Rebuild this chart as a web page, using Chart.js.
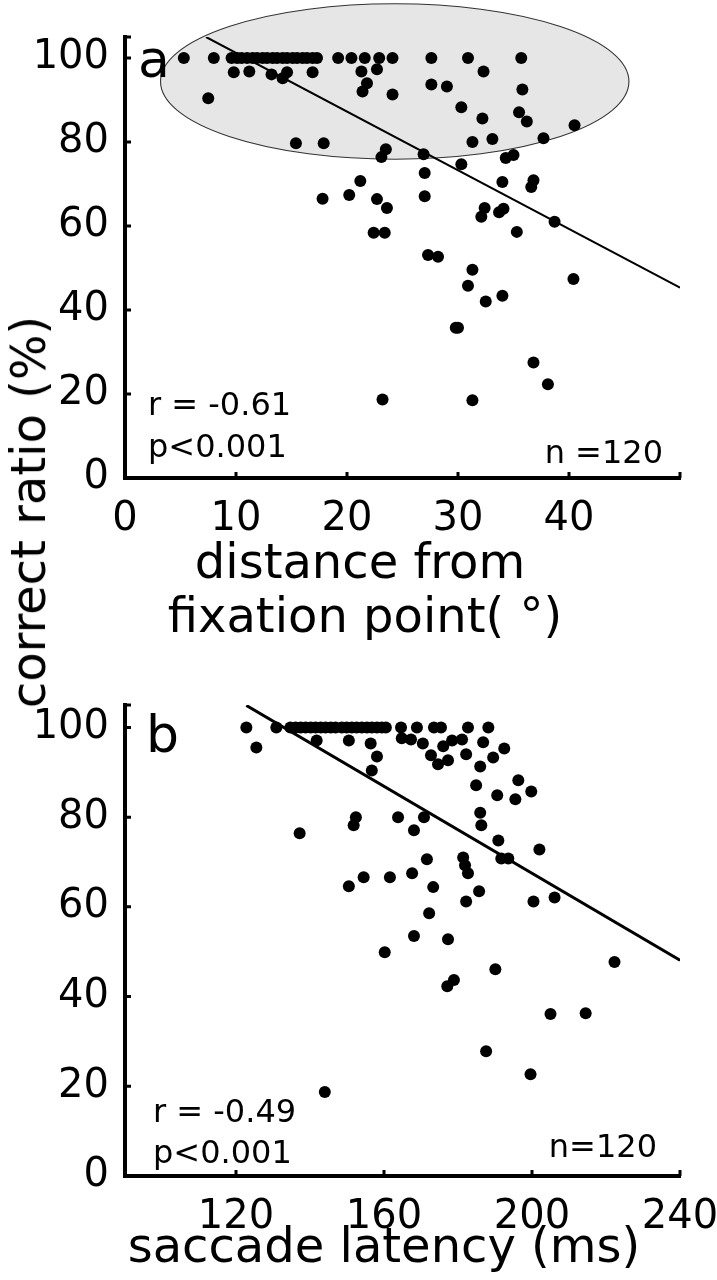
<!DOCTYPE html>
<html>
<head>
<meta charset="utf-8">
<script src="https://cdn.jsdelivr.net/npm/chart.js@4.4.0/dist/chart.umd.min.js"></script>
<style>
  body { margin: 0; background: #fff; width: 717px; height: 1280px; position: relative; overflow: hidden; }
  canvas { position: absolute; left: 0; }
  #ytitle {
    position: absolute; left: 28px; top: 512px;
    transform: translate(-50%, -50%) rotate(-90deg);
    font: 48px "DejaVu Sans"; color: #000; white-space: nowrap;
  }
</style>
</head>
<body>
<canvas id="chartA" width="717" height="640" style="top:0"></canvas>
<canvas id="chartB" width="717" height="640" style="top:640px"></canvas>
<div id="ytitle">correct ratio (%)</div>

<script>
// panel a: distance from fixation point (deg) vs correct ratio (%)
const distA = [
  5.3, 8.0, 9.6, 10.1, 10.5, 11.0, 11.5, 11.9, 12.4, 12.8, 13.3, 13.7, 14.2, 14.6,
  15.1, 15.5, 16.0, 16.4, 16.9, 17.3, 19.2, 20.4, 21.6, 22.9, 24.1, 27.6, 30.9, 35.7,
  9.8, 11.2, 13.2, 14.2, 14.6, 16.9, 21.3, 22.7, 21.8, 21.4, 24.1, 7.5, 32.3, 27.6,
  29.0, 35.8, 30.3, 35.5, 36.2, 32.2, 40.5,
  15.4, 17.9, 23.5, 23.1, 31.3, 33.1, 37.7, 34.3, 35.0, 26.9, 30.3, 27.0, 27.0, 34.0,
  36.8, 36.6, 21.2, 17.8, 20.2, 22.7, 23.6,
  32.4, 32.1, 34.1, 33.7, 38.7, 22.4, 23.4, 35.3, 27.3, 28.2, 31.3, 30.9, 32.5, 34.0,
  40.4, 29.8, 30.0, 36.8, 38.1, 31.3, 23.2
];
const ratioA = [
  100, 100, 100, 100, 100, 100, 100, 100, 100, 100, 100, 100, 100, 100,
  100, 100, 100, 100, 100, 100, 100, 100, 100, 100, 100, 100, 100, 100,
  96.6, 96.8, 96.1, 95.2, 96.6, 96.6, 96.8, 97.3, 94.0, 92.0, 91.3, 90.4, 96.8, 93.7,
  93.2, 92.5, 88.3, 87.1, 84.9, 85.6, 84.0,
  79.7, 79.7, 78.3, 76.4, 80.0, 80.7, 80.9, 76.2, 76.9, 77.1, 74.7, 72.6, 67.1, 70.5,
  70.9, 69.3, 70.7, 66.5, 67.4, 66.4, 64.3,
  64.3, 62.2, 64.1, 63.3, 61.0, 58.4, 58.4, 58.6, 53.1, 52.7, 49.6, 45.8, 42.0, 43.4,
  47.4, 35.8, 35.8, 27.5, 22.3, 18.5, 18.7
];
const fitXA = [7.3, 50];
const fitYA = [105, 45.3];

// panel b: saccade latency (ms) vs correct ratio (%)
const latB = [
  122.8, 130.9, 134.7, 136.1, 137.5, 138.8, 140.2, 141.5, 142.9, 144.2, 145.6, 146.9,
  148.6, 149.9, 151.3, 152.6, 154.0, 155.4, 156.7, 158.1, 159.4, 160.5, 164.6, 168.9,
  173.5, 175.4, 182.7, 188.2,
  125.5, 141.8, 150.5, 156.4, 158.1, 156.7, 164.8, 167.3, 170.5, 172.7, 174.6, 177.3,
  176.0, 178.4, 181.1, 182.2, 186.8, 189.5, 192.5, 186.0, 184.9, 190.6, 195.5, 196.3, 199.8,
  152.4, 151.8, 163.8, 170.8, 168.1, 186.0, 186.3, 190.9, 191.7, 193.6, 202.0, 171.6,
  181.4, 181.9, 182.7, 137.2,
  150.5, 154.5, 161.6, 167.6, 173.3, 185.7, 182.2, 200.4, 206.1, 172.2, 168.1, 177.3,
  160.2, 190.1, 178.9, 177.1, 205.0, 214.5, 222.3, 187.6, 199.6, 144.0
];
const ratioB = [
  100, 100, 100, 100, 100, 100, 100, 100, 100, 100, 100, 100,
  100, 100, 100, 100, 100, 100, 100, 100, 100, 100, 100, 100,
  100, 100, 100, 100,
  95.5, 97.1, 97.1, 96.4, 93.5, 90.4, 97.6, 97.3, 96.4, 93.8, 91.8, 92.7,
  95.8, 97.1, 97.3, 94.0, 96.7, 93.3, 95.3, 91.3, 87.1, 84.9, 84.0, 88.2, 85.7,
  80.0, 78.2, 80.0, 80.0, 77.1, 81.0, 78.2, 74.8, 70.8, 70.8, 72.8, 70.6,
  71.0, 69.3, 67.5, 76.4,
  64.6, 66.6, 66.6, 67.5, 64.4, 63.5, 61.2, 61.2, 62.1, 58.6, 53.5, 52.8,
  49.9, 46.1, 43.7, 42.3, 36.1, 36.3, 47.7, 27.8, 22.7, 18.7
];
const fitXB = [122.8, 240];
const fitYB = [104.9, 48.1];

// axes
const yTicks = [0, 20, 40, 60, 80, 100];
const xTicksA = [0, 10, 20, 30, 40, 50];
const xLabelsA = [0, 10, 20, 30, 40];
const xTicksB = [120, 160, 200, 240];

const FONT = 'DejaVu Sans';
const toPoints = (xs, ys) => xs.map((x, i) => ({ x: x, y: ys[i] }));

// small tick marks pointing into the plot
const inwardTicks = {
  id: 'inwardTicks',
  afterDraw(chart) {
    const ctx = chart.ctx, a = chart.chartArea;
    const xs = chart.scales.x, ys = chart.scales.y;
    ctx.save();
    ctx.strokeStyle = '#000';
    ctx.lineWidth = 3;
    ctx.beginPath();
    xs.ticks.forEach(t => {
      const px = xs.getPixelForValue(t.value);
      if (px - a.left < 4) return;
      ctx.moveTo(px, a.bottom);
      ctx.lineTo(px, a.bottom - 6);
    });
    ys.ticks.concat([{ value: ys.max }]).forEach(t => {
      const py = ys.getPixelForValue(t.value);
      if (a.bottom - py < 4) return;
      ctx.moveTo(a.left, py);
      ctx.lineTo(a.left + 6, py);
    });
    ctx.stroke();
    ctx.restore();
  }
};

// grey ellipse behind the points (panel a)
const ellipse = {
  id: 'ellipse',
  beforeDatasetsDraw(chart, args, opts) {
    if (!opts || opts.cx === undefined) return;
    const xs = chart.scales.x, ys = chart.scales.y, ctx = chart.ctx;
    const cx = xs.getPixelForValue(opts.cx), cy = ys.getPixelForValue(opts.cy);
    const rx = Math.abs(xs.getPixelForValue(opts.cx + opts.rx) - cx);
    const ry = Math.abs(ys.getPixelForValue(opts.cy + opts.ry) - cy);
    ctx.save();
    ctx.beginPath();
    ctx.ellipse(cx, cy, rx, ry, 0, 0, Math.PI * 2);
    ctx.fillStyle = '#e6e6e6';
    ctx.fill();
    ctx.strokeStyle = '#333';
    ctx.lineWidth = 1.1;
    ctx.stroke();
    ctx.restore();
  }
};

// panel letter, statistics and axis title
const panelText = {
  id: 'panelText',
  afterDraw(chart, args, opts) {
    const ctx = chart.ctx;
    ctx.save();
    ctx.fillStyle = '#000';
    ctx.textBaseline = 'alphabetic';
    (opts.items || []).forEach(it => {
      ctx.font = it.size + 'px "' + FONT + '"';
      ctx.textAlign = it.align || 'left';
      ctx.fillText(it.text, it.x, it.y);
    });
    ctx.restore();
  }
};

function makeChart(id, pts, fit, xMin, xMax, xTicks, xLabels, top, xHeight, lineW, extra) {
  return new Chart(document.getElementById(id), {
    type: 'scatter',
    data: {
      datasets: [
        { data: fit, showLine: true, borderColor: '#000', borderWidth: lineW, pointRadius: 0 },
        { data: pts, backgroundColor: '#000', borderWidth: 0, pointRadius: 6 }
      ]
    },
    options: {
      responsive: false,
      animation: false,
      devicePixelRatio: 1,
      layout: { padding: { left: 0, top: top, right: 37, bottom: 0 } },
      plugins: Object.assign({ legend: { display: false }, tooltip: { enabled: false } }, extra),
      scales: {
        x: {
          type: 'linear', min: xMin, max: xMax,
          grid: { display: false },
          border: { display: true, color: '#000', width: 4 },
          ticks: {
            color: '#000', font: { family: FONT, size: 40 }, padding: 10,
            autoSkip: false, maxRotation: 0,
            callback: v => xLabels.includes(v) ? String(v) : ''
          },
          afterBuildTicks: s => { s.ticks = xTicks.map(v => ({ value: v })); },
          afterFit: s => { s.height = xHeight; s.paddingLeft = 0; s.paddingRight = 0; }
        },
        y: {
          type: 'linear', min: 0, max: 105,
          grid: { display: false },
          border: { display: true, color: '#000', width: 4 },
          ticks: { color: '#000', font: { family: FONT, size: 40 }, padding: 8, autoSkip: false },
          afterBuildTicks: s => { s.ticks = yTicks.map(v => ({ value: v })); },
          afterFit: s => { s.width = 125; s.paddingTop = 0; s.paddingBottom = 0; }
        }
      }
    },
    plugins: [ellipse, inwardTicks, panelText]
  });
}

makeChart('chartA', toPoints(distA, ratioA), toPoints(fitXA, fitYA), 0, 50, xTicksA, xLabelsA, 37, 162, 2, {
  ellipse: { cx: 24.3, cy: 94.4, rx: 21.1, ry: 18.5 },
  panelText: { items: [
    { text: 'a', x: 138, y: 77, size: 52 },
    { text: 'r = -0.61', x: 148, y: 415, size: 32 },
    { text: 'p<0.001', x: 148, y: 457, size: 32 },
    { text: 'n =120', x: 663, y: 463, size: 32, align: 'right' },
    { text: 'distance from', x: 360, y: 578, size: 48, align: 'center' },
    { text: 'fixation point( \u00b0)', x: 365, y: 632, size: 48, align: 'center' }
  ] }
});

makeChart('chartB', toPoints(latB, ratioB), toPoints(fitXB, fitYB), 90, 240, xTicksB, xTicksB, 65, 104, 3, {
  panelText: { items: [
    { text: 'b', x: 146, y: 112, size: 52 },
    { text: 'r = -0.49', x: 153, y: 482, size: 32 },
    { text: 'p<0.001', x: 153, y: 523, size: 32 },
    { text: 'n=120', x: 657, y: 517, size: 32, align: 'right' },
    { text: 'saccade latency (ms)', x: 384, y: 622, size: 48, align: 'center' }
  ] }
});
</script>
</body>
</html>
